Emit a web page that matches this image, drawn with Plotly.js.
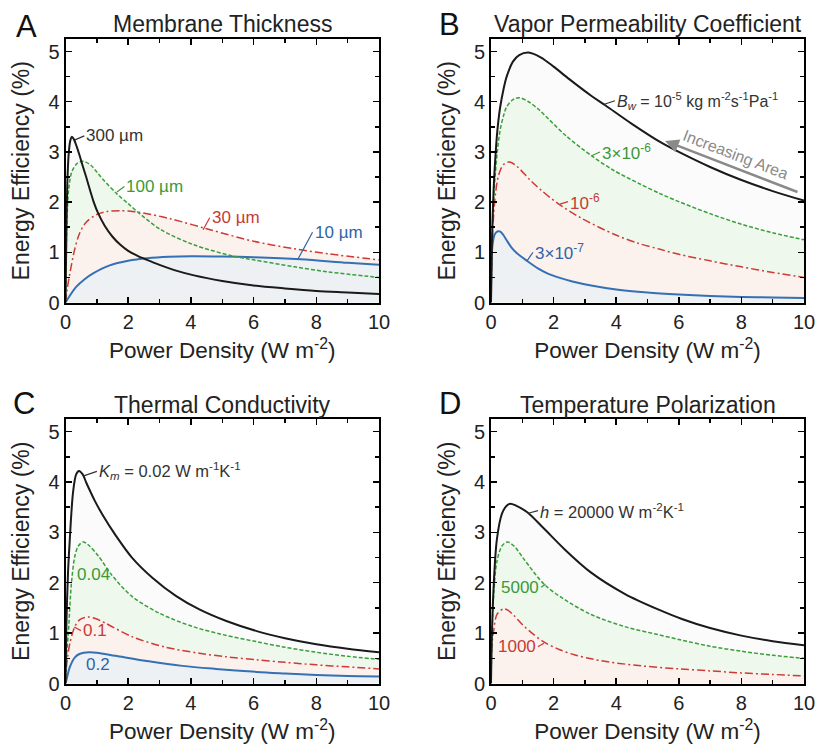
<!DOCTYPE html>
<html><head><meta charset="utf-8">
<script src="https://cdn.plot.ly/plotly-3.0.1.min.js"></script>
<style>html,body{margin:0;padding:0;background:#fff}#chart{width:815px;height:745px}</style>
</head><body><div id="chart"></div>
<script>
// ---------- Panel A: Membrane Thickness ----------
const A_x_300 = [0,0.03,0.06,0.1,0.15,0.2,0.27,0.35,0.45,0.55,0.66,0.8,0.9,1.04,1.25,1.5,1.75,2.0,2.3,2.6,3.0,3.5,4.1,5.0,6.0,7.0,8.0,9.0,10];
const A_y_300 = [0,1.5,2.4,2.95,3.22,3.3,3.25,3.12,2.93,2.72,2.5,2.2,2.0,1.78,1.53,1.31,1.15,1.03,0.93,0.85,0.75,0.64,0.54,0.43,0.34,0.28,0.23,0.2,0.17];
const A_x_100 = [0,0.02,0.05,0.1,0.2,0.35,0.5,0.6,0.8,1.0,1.2,1.63,2.0,2.27,3.02,4.09,5.38,6.0,7.31,8.38,10];
const A_y_100 = [0,0.8,1.7,2.25,2.6,2.76,2.81,2.81,2.74,2.6,2.45,2.17,1.97,1.82,1.46,1.15,0.92,0.85,0.71,0.61,0.5];
const A_x_30 = [0,0.05,0.13,0.29,0.45,0.66,0.99,1.3,1.74,2.2,2.6,3.34,4.5,6.0,7.31,8.38,10];
const A_y_30 = [0,0.25,0.55,1.05,1.38,1.6,1.75,1.81,1.83,1.81,1.77,1.67,1.47,1.22,1.07,0.97,0.85];
const A_x_10 = [0,0.1,0.34,0.6,0.88,1.41,2.0,2.6,3.3,4.0,5.0,6.0,7.5,9.0,10];
const A_y_10 = [0,0.1,0.31,0.46,0.58,0.74,0.83,0.88,0.91,0.92,0.915,0.9,0.86,0.79,0.75];
const A_labels = ["300 µm","100 µm","30 µm","10 µm"];

// ---------- Panel B: Vapor Permeability Coefficient ----------
const B_x_1e5 = [0,0.03,0.08,0.13,0.2,0.29,0.4,0.5,0.7,0.9,1.2,1.6,2.0,2.5,3.2,3.65,4.5,5.4,6,7,8,9,10];
const B_y_1e5 = [0,1.2,2.2,2.8,3.4,3.88,4.25,4.5,4.8,4.93,4.98,4.88,4.7,4.45,4.12,3.93,3.56,3.2,3.0,2.7,2.44,2.22,2.03];
const B_x_3e6 = [0,0.03,0.08,0.13,0.2,0.29,0.4,0.5,0.7,0.9,1.2,1.5,1.8,2.4,3.2,3.9,4.7,5.4,6,7,8,9,10];
const B_y_3e6 = [0,1.1,2.0,2.5,3.0,3.43,3.72,3.9,4.04,4.08,4.0,3.86,3.68,3.32,2.93,2.64,2.38,2.17,2.01,1.77,1.56,1.39,1.25];
const B_x_1e6 = [0,0.03,0.08,0.15,0.25,0.4,0.6,0.85,1.25,1.6,2.1,2.86,3.93,4.7,5.4,6,7,8,9,10];
const B_y_1e6 = [0,1.0,1.7,2.2,2.55,2.75,2.8,2.7,2.44,2.24,1.99,1.69,1.36,1.18,1.06,0.96,0.83,0.71,0.6,0.5];
const B_x_3e7 = [0,0.02,0.06,0.12,0.22,0.3,0.4,0.5,0.65,0.83,1.15,1.5,1.8,2.2,2.6,3.2,4,5,6,7,8,9,10];
const B_y_3e7 = [0,0.9,1.2,1.36,1.42,1.41,1.34,1.24,1.1,0.98,0.83,0.68,0.58,0.49,0.42,0.34,0.26,0.2,0.16,0.13,0.11,0.1,0.09];
const B_labels = ["<i>B</i><sub><i>w</i></sub> = 10<sup>-5</sup> kg m<sup>-2</sup>s<sup>-1</sup>Pa<sup>-1</sup>","3×10<sup>-6</sup>","10<sup>-6</sup>","3×10<sup>-7</sup>"];

// ---------- Panel C: Thermal Conductivity ----------
const C_x_002 = [0,0.03,0.08,0.13,0.24,0.34,0.43,0.55,0.66,0.8,0.94,1.2,1.59,2.12,2.77,3.52,4.27,5.13,6.1,7,8,9,10];
const C_y_002 = [0,1.2,2.2,2.79,3.79,4.15,4.22,4.15,3.99,3.8,3.62,3.33,2.95,2.5,2.1,1.74,1.47,1.24,1.04,0.9,0.78,0.69,0.62];
const C_x_004 = [0,0.03,0.09,0.19,0.3,0.41,0.57,0.75,1.05,1.48,2.12,2.98,4.06,5.02,6.1,7,8,9,10];
const C_y_004 = [0,0.5,1.0,2.0,2.53,2.73,2.81,2.74,2.53,2.15,1.73,1.4,1.13,0.97,0.83,0.72,0.62,0.54,0.48];
const C_x_01 = [0,0.03,0.14,0.3,0.46,0.73,0.95,1.27,2.12,3.2,4.27,5.13,6.1,7,8,9,10];
const C_y_01 = [0,0.33,0.8,1.13,1.27,1.32,1.29,1.2,0.93,0.72,0.6,0.53,0.47,0.42,0.37,0.33,0.29];
const C_x_02 = [0,0.03,0.14,0.3,0.46,0.75,1.0,1.59,2.66,3.73,4.8,6.1,7,8,9,10];
const C_y_02 = [0,0.07,0.33,0.52,0.59,0.62,0.61,0.55,0.44,0.35,0.29,0.23,0.2,0.17,0.15,0.14];
const C_labels = ["<i>K</i><sub><i>m</i></sub> = 0.02 W m<sup>-1</sup>K<sup>-1</sup>","0.04","0.1","0.2"];

// ---------- Panel D: Temperature Polarization ----------
const D_x_20000 = [0,0.03,0.09,0.19,0.35,0.5,0.62,0.8,1.16,1.7,2.34,3.2,4.27,5.34,6.1,7,8,9,10];
const D_y_20000 = [0,1.0,2.0,2.87,3.37,3.53,3.57,3.53,3.4,3.07,2.67,2.2,1.78,1.47,1.28,1.1,0.95,0.84,0.76];
const D_x_5000 = [0,0.03,0.09,0.19,0.35,0.52,0.75,1.05,1.7,2.34,3.2,4.27,5.34,6.1,7,8,9,10];
const D_y_5000 = [0,0.9,1.8,2.43,2.73,2.81,2.72,2.47,1.97,1.67,1.37,1.13,0.97,0.86,0.74,0.64,0.56,0.5];
const D_x_1000 = [0,0.01,0.05,0.09,0.19,0.39,0.55,0.73,1.0,1.27,1.7,2.2,2.66,3.2,3.73,4.8,6,7,8,9,10];
const D_y_1000 = [0,0.6,0.9,1.07,1.37,1.48,1.45,1.35,1.17,1.02,0.82,0.67,0.57,0.49,0.43,0.35,0.29,0.25,0.21,0.18,0.15];
const D_labels = ["<i>h</i> = 20000 W m<sup>-2</sup>K<sup>-1</sup>","5000","1000"];

const titles = ["Membrane Thickness","Vapor Permeability Coefficient","Thermal Conductivity","Temperature Polarization"];
const panelLetters = ["A","B","C","D"];
const xTitle = "Power Density (W m<sup>-2</sup>)";
const yTitle = "Energy Efficiency (%)";

// ---------- styles ----------
const FONT = "Liberation Sans, Arial, Helvetica, sans-serif";
const S = {
  k: {line:{color:'#1a1a1a', width:2}, fill:'#fbfbfb', text:'#333333'},
  g: {line:{color:'#3a9f3a', width:1.5, dash:'4px,2px'}, fill:'#eff8ed', text:'#3a9a3a'},
  r: {line:{color:'#cf3a36', width:1.5, dash:'8px,3px,2px,3px'}, fill:'#fbf2ed', text:'#c83a36'},
  b: {line:{color:'#3570b4', width:2}, fill:'#eef1f4', text:'#2f64a8'}
};

const panels = [
  {ax:'', series:[[A_x_300,A_y_300,'k'],[A_x_100,A_y_100,'g'],[A_x_30,A_y_30,'r'],[A_x_10,A_y_10,'b']]},
  {ax:'2', series:[[B_x_1e5,B_y_1e5,'k'],[B_x_3e6,B_y_3e6,'g'],[B_x_1e6,B_y_1e6,'r'],[B_x_3e7,B_y_3e7,'b']]},
  {ax:'3', series:[[C_x_002,C_y_002,'k'],[C_x_004,C_y_004,'g'],[C_x_01,C_y_01,'r'],[C_x_02,C_y_02,'b']]},
  {ax:'4', series:[[D_x_20000,D_y_20000,'k'],[D_x_5000,D_y_5000,'g'],[D_x_1000,D_y_1000,'r']]}
];

const traces = [];
panels.forEach(p => {
  p.series.forEach(s => {
    traces.push({x:s[0], y:s[1], xaxis:'x'+p.ax, yaxis:'y'+p.ax, type:'scatter', mode:'lines',
      line:{width:0, shape:'spline', smoothing:0.9}, fill:'tozeroy', fillcolor:S[s[2]].fill,
      hoverinfo:'skip', showlegend:false});
  });
  p.series.slice().reverse().forEach(s => {
    traces.push({x:s[0], y:s[1], xaxis:'x'+p.ax, yaxis:'y'+p.ax, type:'scatter', mode:'lines',
      line:Object.assign({shape:'spline', smoothing:0.9}, S[s[2]].line), hoverinfo:'skip', showlegend:false});
  });
});

const W = 815, H = 745;
const boxes = [
  {l:65.5, r:379, t:39, b:302.5},
  {l:491, r:804, t:39, b:302.5},
  {l:65.5, r:379, t:419, b:683.5},
  {l:491, r:804, t:419, b:683.5}
];

function xa(b){
  return {domain:[b.l/W, b.r/W], range:[0,10], dtick:2, tick0:0, ticks:'inside', ticklen:6, tickwidth:1.5, tickcolor:'#000',
    showline:true, linewidth:2, linecolor:'#000', mirror:'allticks', showgrid:false, zeroline:false,
    minor:{dtick:1, tick0:0, ticks:'inside', ticklen:4, tickwidth:1.5, tickcolor:'#000', showgrid:false},
    tickfont:{family:FONT, size:20, color:'#222'}, ticklabeloverflow:'allow',
    title:{text:xTitle, font:{family:FONT, size:22.5, color:'#222'}, standoff:11}, fixedrange:true};
}
function ya(b){
  return {domain:[1-b.b/H, 1-b.t/H], range:[0,5.25], dtick:1, tick0:0, ticks:'inside', ticklen:6, tickwidth:1.5, tickcolor:'#000',
    showline:true, linewidth:2, linecolor:'#000', mirror:'allticks', showgrid:false, zeroline:false,
    minor:{dtick:0.5, tick0:0, ticks:'inside', ticklen:4, tickwidth:1.5, tickcolor:'#000', showgrid:false},
    tickfont:{family:FONT, size:20, color:'#222'},
    title:{text:yTitle, font:{family:FONT, size:23, color:'#222'}, standoff:12}, fixedrange:true};
}

const layout = {width:W, height:H, margin:{l:0,r:0,t:0,b:0}, paper_bgcolor:'#fff', plot_bgcolor:'#fff',
  font:{family:FONT, color:'#222'}, showlegend:false, annotations:[]};
['','2','3','4'].forEach((k,i) => {
  layout['xaxis'+k] = Object.assign(xa(boxes[i]), {anchor:'y'+k});
  layout['yaxis'+k] = Object.assign(ya(boxes[i]), {anchor:'x'+k});
});

const ann = layout.annotations;
// panel letters and titles
const letterPos = [[26,26],[449,25],[24,403],[450,403]];
const titleY = [24,24,405,405];
panelLetters.forEach((L,i) => {
  ann.push({xref:'paper', yref:'paper', x:letterPos[i][0]/W, y:1-letterPos[i][1]/H, text:L, showarrow:false,
    xanchor:'center', yanchor:'middle', font:{family:FONT, size:31, color:'#111'}});
  ann.push({xref:'paper', yref:'paper', x:((boxes[i].l+boxes[i].r)/2)/W, y:1-titleY[i]/H, text:titles[i], showarrow:false,
    xanchor:'center', yanchor:'middle', font:{family:FONT, size:23, color:'#222'}});
});

function lead(k, tip, txt, text, col, anchor, size){
  return {xref:'x'+k, yref:'y'+k, axref:'x'+k, ayref:'y'+k, x:tip[0], y:tip[1], ax:txt[0], ay:txt[1], text:text,
    showarrow:true, arrowhead:0, arrowwidth:1.2, arrowcolor:col, standoff:0, startstandoff:0,
    xanchor:anchor||'left', yanchor:'middle', font:{family:FONT, size:size||17, color:col}};
}
function lbl(k, pos, text, col){
  return {xref:'x'+k, yref:'y'+k, x:pos[0], y:pos[1], text:text, showarrow:false, xanchor:'left', yanchor:'middle',
    font:{family:FONT, size:17, color:col}};
}
// Panel A labels
ann.push(lead('', [0.3,3.24], [0.6,3.32], A_labels[0], S.k.text));
ann.push(lead('', [1.64,2.2], [1.88,2.31], A_labels[1], S.g.text));
ann.push(lead('', [4.39,1.45], [4.6,1.69], A_labels[2], S.r.text));
ann.push(lead('', [7.42,0.87], [7.88,1.4], A_labels[3], S.b.text));
// Panel B labels
ann.push(lead('2', [3.62,3.95], [3.96,4.02], B_labels[0], S.k.text, 'left', 16));
ann.push(lead('2', [3.23,2.93], [3.48,3.0], B_labels[1], S.g.text));
ann.push(lead('2', [2.2,1.96], [2.46,2.01], B_labels[2], S.r.text));
ann.push(lead('2', [1.15,0.83], [1.34,1.0], B_labels[3], S.b.text));
ann.push({xref:'x2', yref:'y2', axref:'x2', ayref:'y2', x:5.56, y:3.22, ax:9.84, ay:2.19, text:'', showarrow:true,
  arrowhead:2, arrowsize:1.1, arrowwidth:2.5, arrowcolor:'#8a8a8a'});
ann.push({xref:'x2', yref:'y2', x:7.8, y:2.95, text:'Increasing Area', textangle:21, showarrow:false,
  font:{family:FONT, size:16, color:'#8a8a8a'}});
// Panel C labels
ann.push(lead('3', [0.58,4.12], [1.0,4.21], C_labels[0], S.k.text, 'left', 16.5));
ann.push(lbl('3', [0.3,2.16], C_labels[1], S.g.text));
ann.push(lead('3', [0.28,1.12], [0.49,1.05], C_labels[2], S.r.text));
ann.push(lbl('3', [0.59,0.38], C_labels[3], S.b.text));
// Panel D labels
ann.push(lead('4', [1.19,3.38], [1.5,3.43], D_labels[0], S.k.text, 'left', 16.5));
ann.push(lead('4', [1.74,1.97], [1.6,1.91], D_labels[1], S.g.text, 'right'));
ann.push(lead('4', [1.69,0.8], [1.5,0.73], D_labels[2], S.r.text, 'right'));

Plotly.newPlot('chart', traces, layout, {staticPlot:true, displayModeBar:false});
</script></body></html>
